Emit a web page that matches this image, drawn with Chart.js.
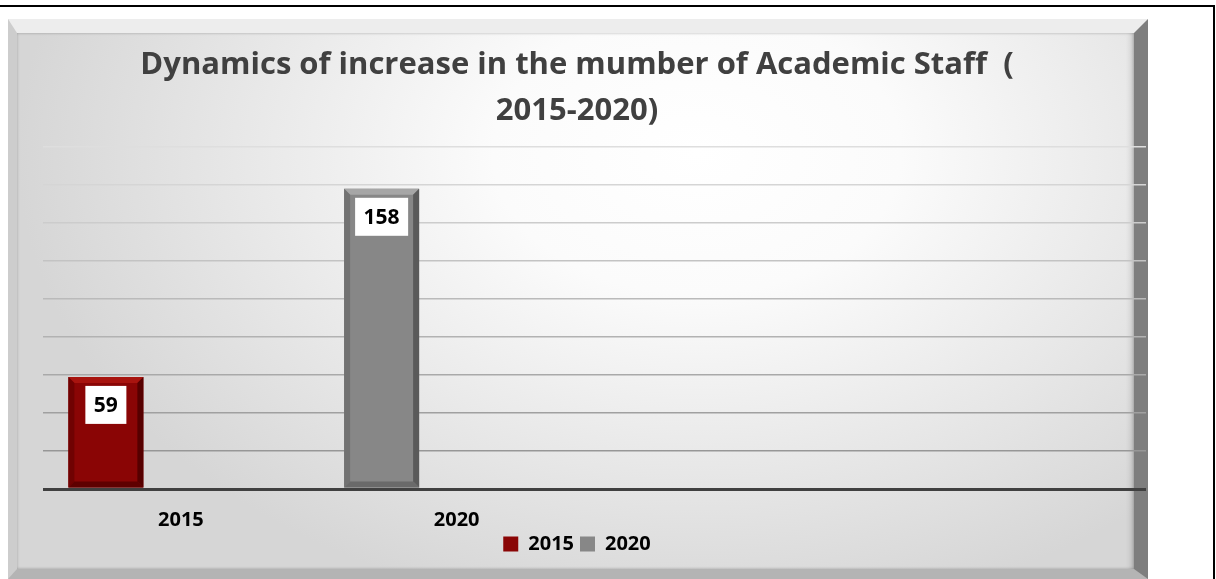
<!DOCTYPE html>
<html>
<head>
<meta charset="utf-8">
<script src="https://cdn.jsdelivr.net/npm/chart.js@4"></script>
<style>
  html, body { margin: 0; padding: 0; background: #fff; }
  body { width: 1216px; height: 579px; position: relative; overflow: hidden; }
  #frame { position: absolute; left: -2px; top: 5px; width: 1217px; height: 580px;
           border-top: 2px solid #000; border-right: 2px solid #000; box-sizing: border-box; }
  #panel { position: absolute; left: 8px; top: 19px; width: 1140px; height: 560px; box-sizing: border-box;
           border-style: solid; border-width: 14px 14px 10px 9px;
           border-color: #ededed #7e7e7e #b4b4b4 #cdcdcd;
           background: radial-gradient(ellipse 680px 470px at 680px 120px, #ffffff 0%, #fbfbfb 30%, #e6e6e6 70%, #d6d6d6 100%);
           box-shadow: inset 0 0 3px rgba(0,0,0,0.25), inset -6px 0 6px -4px rgba(0,0,0,0.2); }
  #wrap { position: absolute; left: 8px; top: 19px; width: 1140px; height: 560px; }
</style>
</head>
<body>
<div id="frame"></div>
<div id="panel"></div>
<div id="wrap"><canvas id="chart" width="1140" height="560"></canvas></div>
<script>
const categories = ['2015', '2020', '', ''];
const values2015 = [59, null, null, null];
const values2020 = [null, 158, null, null];
const yMax = 180;
const yStep = 20;
const FONT = '"Open Sans"';

// draws the value boxes on top of each bar
const valueBoxes = {
  id: 'valueBoxes',
  afterDatasetsDraw(chart) {
    const ctx = chart.ctx;
    ctx.save();
    ctx.font = 'bold 21px ' + FONT;
    chart.data.datasets.forEach((ds, i) => {
      if (i > 1) return;
      chart.getDatasetMeta(i).data.forEach((bar, j) => {
        const v = ds.data[j];
        if (v == null) return;
        const text = String(v);
        const w = ctx.measureText(text).width + 17;
        const h = 38;
        const top = bar.y + 9;
        ctx.fillStyle = '#fff';
        ctx.fillRect(bar.x - w / 2, top, w, h);
        ctx.fillStyle = '#000';
        ctx.textAlign = 'center';
        ctx.textBaseline = 'middle';
        ctx.fillText(text, bar.x, top + h / 2 + 1);
      });
    });
    ctx.restore();
  }
};

// bevel edges on the bars
const bevel = {
  id: 'bevel',
  afterDatasetDraw(chart, args) {
    const i = args.index;
    if (i > 1) return;
    const shades = i === 0
      ? { top: '#a8140f', left: '#700202', right: '#560000', bottom: '#5e0000' }
      : { top: '#a6a6a6', left: '#727272', right: '#5a5a5a', bottom: '#6a6a6a' };
    const ctx = chart.ctx;
    const b = 6;
    args.meta.data.forEach((bar, j) => {
      if (chart.data.datasets[i].data[j] == null) return;
      const l = bar.x - bar.width / 2, r = bar.x + bar.width / 2, t = bar.y, btm = bar.base;
      const poly = (pts, c) => {
        ctx.beginPath();
        ctx.moveTo(pts[0][0], pts[0][1]);
        pts.slice(1).forEach(p => ctx.lineTo(p[0], p[1]));
        ctx.closePath();
        ctx.fillStyle = c;
        ctx.fill();
      };
      ctx.save();
      poly([[l, t], [r, t], [r - b, t + b], [l + b, t + b]], shades.top);
      poly([[l, t], [l + b, t + b], [l + b, btm - b], [l, btm]], shades.left);
      poly([[r, t], [r - b, t + b], [r - b, btm - b], [r, btm]], shades.right);
      poly([[l, btm], [l + b, btm - b], [r - b, btm - b], [r, btm]], shades.bottom);
      ctx.restore();
    });
  }
};

function gridShade(v) {
  if (v === 0) return '#404040';
  const k = v / yMax;
  const c = Math.round(142 + k * 80);
  return `rgb(${c},${c},${c})`;
}

new Chart(document.getElementById('chart'), {
  type: 'bar',
  data: {
    labels: categories,
    datasets: [
      { label: '2015', data: values2015, stack: 'a', backgroundColor: '#8a0505', borderWidth: 0 },
      { label: '2020', data: values2020, stack: 'a', backgroundColor: '#878787', borderWidth: 0 },
      { label: 'x1', data: [], stack: 'b' },
      { label: 'x2', data: [], stack: 'c' }
    ]
  },
  options: {
    responsive: false,
    animation: false,
    categoryPercentage: 0.816,
    barPercentage: 1,
    layout: { padding: { left: 0, right: 2, top: 0, bottom: 15 } },
    scales: {
      x: {
        grid: { display: false, drawTicks: false },
        border: { display: false },
        ticks: { color: '#000', font: { family: FONT, size: 20, weight: 'bold', lineHeight: 0.95 }, padding: 21.5 },
        afterFit: (scale) => { scale.height = 39; }
      },
      y: {
        min: 0,
        max: yMax,
        ticks: { display: false, stepSize: yStep },
        border: { display: false },
        grid: {
          drawTicks: false,
          color: (c) => gridShade(c.tick.value),
          lineWidth: (c) => c.tick.value === 0 ? 3 : 1.5
        },
        afterFit: (scale) => { scale.width = 35; }
      }
    },
    plugins: {
      title: {
        display: true,
        text: ['Dynamics of increase in the mumber of Academic Staff  (', '2015-2020)'],
        color: '#404040',
        font: { family: FONT, size: 31, weight: 'bold', lineHeight: 46 / 31 },
        padding: { top: 23, bottom: 13 }
      },
      legend: {
        position: 'bottom',
        labels: {
          filter: (item) => item.datasetIndex < 2,
          boxWidth: 15,
          boxHeight: 15,
          padding: 6,
          color: '#000',
          font: { family: FONT, size: 20, weight: 'bold' }
        }
      },
      tooltip: { enabled: false }
    }
  },
  plugins: [bevel, valueBoxes]
});
</script>
</body>
</html>
